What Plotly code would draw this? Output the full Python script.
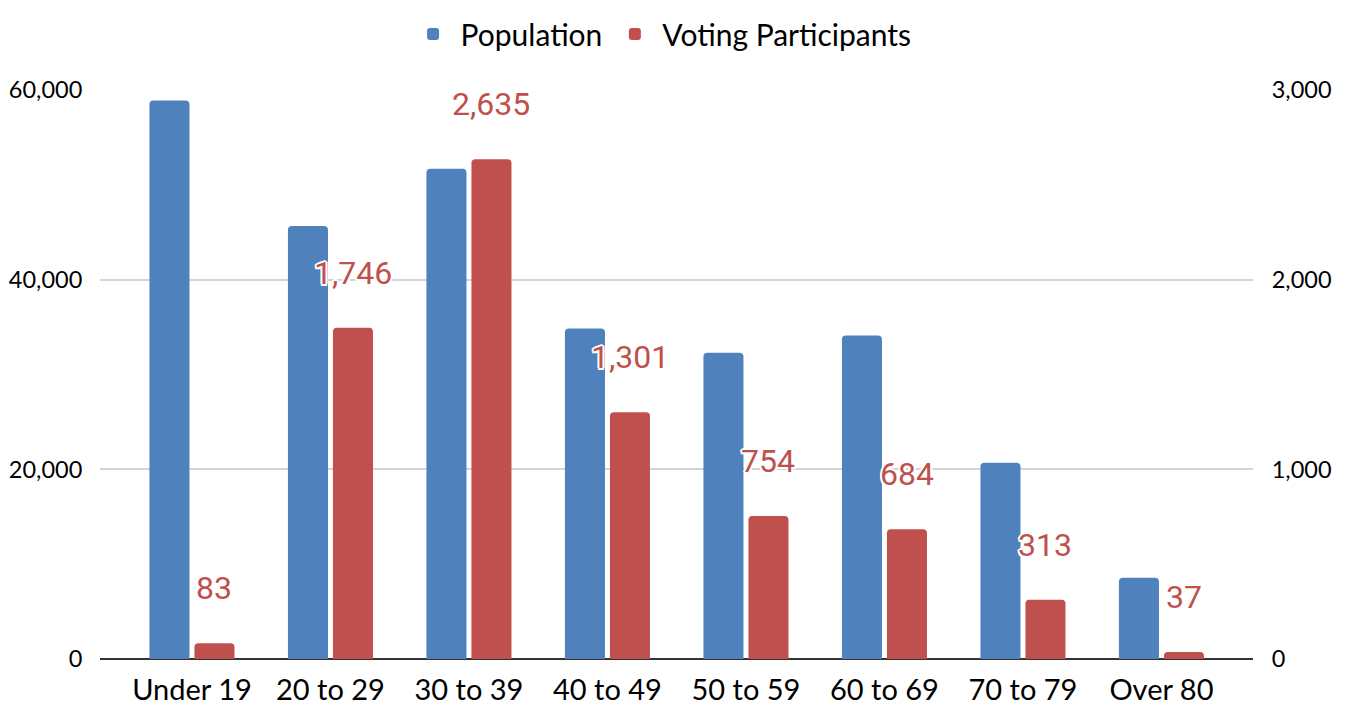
import plotly.graph_objects as go

categories = ["Under 19", "20 to 29", "30 to 39", "40 to 49", "50 to 59", "60 to 69", "70 to 79", "Over 80"]
population = [58900, 45650, 51700, 34850, 32300, 34100, 20700, 8570]
voting = [83, 1746, 2635, 1301, 754, 684, 313, 37]
left_ticks = [0, 20000, 40000, 60000]
right_ticks = [0, 1000, 2000, 3000]

BLUE = "#4F81BD"
RED = "#C0504D"
BAR_W = 0.289
BLUE_OFF = -0.307
RED_OFF = 0.018

fig = go.Figure()
fig.add_trace(go.Bar(
    x=categories, y=population, name="Population",
    marker=dict(color=BLUE, line=dict(width=0)),
    width=BAR_W, offset=BLUE_OFF, yaxis="y",
))
fig.add_trace(go.Bar(
    x=categories, y=voting, name="Voting Participants",
    marker=dict(color=RED, line=dict(width=0)),
    width=BAR_W, offset=RED_OFF, yaxis="y2",
))

shadow = ("2px 0 0 #fff, -2px 0 0 #fff, 0 2px 0 #fff, 0 -2px 0 #fff, "
          "1.5px 1.5px 0 #fff, -1.5px -1.5px 0 #fff, 1.5px -1.5px 0 #fff, -1.5px 1.5px 0 #fff")
for i, v in enumerate(voting):
    fig.add_annotation(
        x=i + RED_OFF + BAR_W / 2, y=v, xref="x", yref="y2",
        text=f"{v:,}", showarrow=False,
        xanchor="center", yanchor="middle", yshift=55,
        font=dict(family="Roboto", size=32, color=RED, shadow=shadow),
    )

# the page body adds an 8px offset; the figure is sized to fit the window after it
fig.update_layout(
    width=1341, height=698,
    margin=dict(l=92, r=96, t=82, b=47, autoexpand=False),
    paper_bgcolor="white", plot_bgcolor="white",
    barmode="overlay", barcornerradius=4,
    font=dict(family="Lato", color="#000000"),
    legend=dict(
        orientation="h", x=0.487, xanchor="center", xref="container",
        y=1.0, yanchor="top", yref="container",
        font=dict(family="Lato", size=30, color="#000000"),
        itemsizing="constant", itemwidth=45,
    ),
    xaxis=dict(
        type="category", range=[-0.664, 7.661], automargin=False,
        showgrid=False, showline=False, zeroline=False,
        ticks="outside", ticklen=5, tickcolor="rgba(0,0,0,0)",
        tickfont=dict(family="Lato", size=29, color="#000000"),
    ),
    yaxis=dict(
        range=[0, 60000], tickvals=left_ticks, tickformat=",", automargin=False,
        showgrid=True, gridcolor="#D4D4D4", gridwidth=2,
        zeroline=True, zerolinecolor="#333333", zerolinewidth=2,
        showline=False,
        ticks="outside", ticklen=12, tickcolor="rgba(0,0,0,0)",
        tickfont=dict(family="Lato", size=23.5, color="#000000"),
    ),
    yaxis2=dict(
        range=[0, 3000], tickvals=right_ticks, tickformat=",", automargin=False,
        overlaying="y", side="right",
        showgrid=False, zeroline=False, showline=False,
        ticks="outside", ticklen=13, tickcolor="rgba(0,0,0,0)",
        tickfont=dict(family="Lato", size=23.5, color="#000000"),
    ),
)

fig.write_html("out.html")
